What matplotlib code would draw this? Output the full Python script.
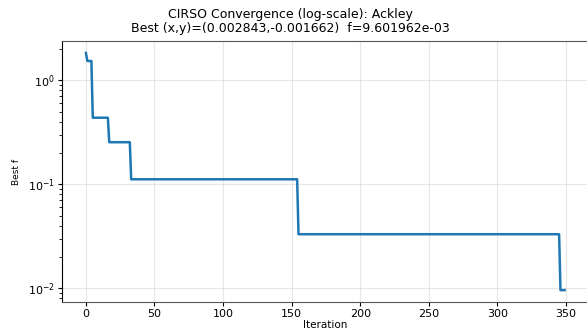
import numpy as np
import matplotlib
matplotlib.use("Agg")
from matplotlib import pyplot as plt

# best-so-far levels and the iteration where each level starts
level_start = [0, 1, 5, 17, 33, 155, 346]
level_value = [1.83, 1.53, 0.436, 0.2535, 0.1116, 0.0331, 0.009601962]
n_iter = 350

best_x, best_y, best_f = 0.002843, -0.001662, 9.601962e-03

# expand the levels into one value per iteration
ends = level_start[1:] + [n_iter]
counts = [e - s for s, e in zip(level_start, ends)]
history = np.repeat(level_value, counts)
iters = np.arange(n_iter)

fig = plt.figure(figsize=(5.87, 3.32), dpi=100)
ax = fig.add_axes([0.1056, 0.0904, 0.897, 0.786])
ax.plot(iters, history, color="tab:blue", lw=1.8)
ax.set_yscale("log")
ax.grid(True, alpha=0.3)
ax.set_xlabel("Iteration", fontsize=7.5, labelpad=1)
ax.set_ylabel("Best f", fontsize=6.5, labelpad=5)
ax.tick_params(labelsize=8, length=3, pad=2)
for side in ["top", "bottom"]:
    ax.spines[side].set_color("#555555")
fig.suptitle("CIRSO Convergence (log-scale): Ackley\n"
             f"Best (x,y)=({best_x:.6f},{best_y:.6f})  f={best_f:.6e}",
             x=0.494, y=0.975, fontsize=9, linespacing=1.05)
fig.savefig("out.png", dpi=100)
